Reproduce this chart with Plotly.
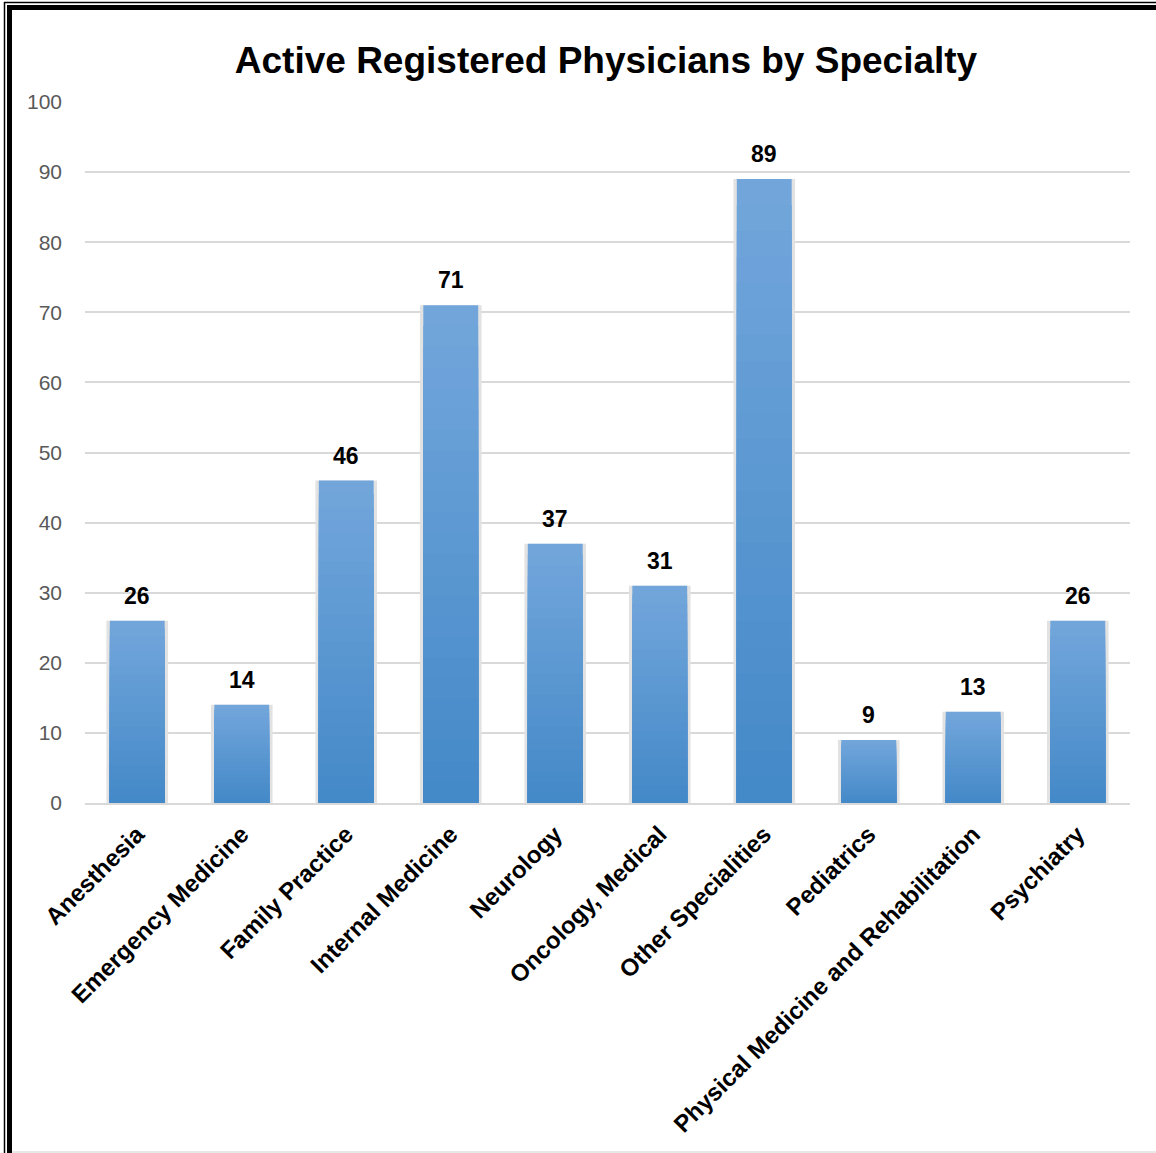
import plotly.graph_objects as go

categories = ["Anesthesia", "Emergency Medicine", "Family Practice", "Internal Medicine",
              "Neurology", "Oncology, Medical", "Other Specialities", "Pediatrics",
              "Physical Medicine and Rehabilitation", "Psychiatry"]
values = [26, 14, 46, 71, 37, 31, 89, 9, 13, 26]
y_ticks = [0, 10, 20, 30, 40, 50, 60, 70, 80, 90, 100]
title_text = "Active Registered Physicians by Specialty"

W, H = 1156, 1153
L, R, T, B = 85, 26, 102, 350
PW, PH = W - L - R, H - T - B

def px(x):
    return (x - L) / PW

def py(y):
    return (H - B - y) / PH

FONT = "Liberation Sans, Arial, sans-serif"
top_c = (0x72, 0xA6, 0xDB)
bot_c = (0x44, 0x89, 0xC8)

fig = go.Figure()

# soft shadow behind bars
fig.add_trace(go.Bar(x=categories, y=values, width=0.59,
                     marker=dict(color="#e2e2e2", line=dict(width=0)),
                     hoverinfo="skip", showlegend=False))

N = 24
for k in range(N):
    f = (N - k) / N
    t = k / (N - 1)
    c = tuple(round(top_c[i] + (bot_c[i] - top_c[i]) * t) for i in range(3))
    fig.add_trace(go.Bar(x=categories, y=[v * f for v in values], width=0.525,
                         marker=dict(color="rgb(%d,%d,%d)" % c, line=dict(width=0)),
                         hoverinfo="skip" if k else "y", showlegend=False))

for cat, v in zip(categories, values):
    fig.add_annotation(x=cat, y=v, text="<b>%d</b>" % v, showarrow=False,
                       yanchor="bottom", yshift=10,
                       font=dict(family=FONT, size=23, color="#000000"))

shapes = []
# double frame lines on left and top
shapes.append(dict(type="line", xref="paper", yref="paper", x0=px(4.5), x1=px(4.5),
                   y0=py(2), y1=py(H), line=dict(color="black", width=1.5)))
shapes.append(dict(type="line", xref="paper", yref="paper", x0=px(9.5), x1=px(9.5),
                   y0=py(5), y1=py(H), line=dict(color="black", width=5)))
shapes.append(dict(type="line", xref="paper", yref="paper", x0=px(4), x1=px(W),
                   y0=py(2.5), y1=py(2.5), line=dict(color="black", width=1.5)))
shapes.append(dict(type="line", xref="paper", yref="paper", x0=px(7), x1=px(W),
                   y0=py(7.5), y1=py(7.5), line=dict(color="black", width=5)))
shapes.append(dict(type="line", xref="paper", yref="paper", x0=px(12), x1=px(W),
                   y0=py(1152), y1=py(1152), line=dict(color="#e0e0e0", width=1.5)))

fig.update_layout(
    width=W, height=H,
    margin=dict(l=L, r=R, t=T, b=B, autoexpand=False),
    paper_bgcolor="white", plot_bgcolor="white",
    barmode="overlay",
    title=dict(text="<b>%s</b>" % title_text, xref="container", x=606 / W, xanchor="center",
               yref="container", y=1 - 60 / H, yanchor="middle",
               font=dict(family=FONT, size=37, color="#000000")),
    xaxis=dict(tickangle=-45, showgrid=False, showline=True, linecolor="#d9d9d9",
               linewidth=1.5, ticks="", ticklabelstandoff=6,
               tickfont=dict(family=FONT, size=24, color="#000000"),
               tickprefix="<b>", ticksuffix="</b>"),
    yaxis=dict(range=[0, 100], tickvals=y_ticks, showgrid=True, gridcolor="#d9d9d9",
               gridwidth=1.5, zeroline=False, showline=False, ticks="",
               ticklabelstandoff=22,
               tickfont=dict(family=FONT, size=21, color="#595959")),
    shapes=shapes,
    showlegend=False,
)

fig.write_html("out.html")
